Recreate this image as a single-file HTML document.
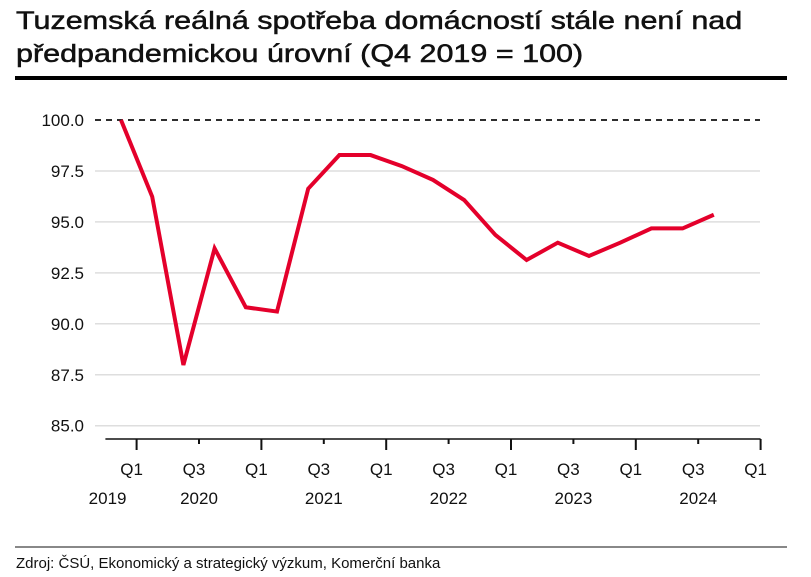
<!DOCTYPE html>
<html><head><meta charset="utf-8"><style>
body{margin:0;background:#fff;font-family:"Liberation Sans",Arial,sans-serif;}
#wrap{position:relative;width:811px;height:577px;overflow:hidden;}
#title{position:absolute;left:16px;top:5px;font-size:25px;font-weight:normal;-webkit-text-stroke:0.5px #111;line-height:33px;color:#111;white-space:nowrap;transform:scaleX(1.22);transform-origin:0 0;}
#rule{position:absolute;left:15px;top:76px;width:772px;height:4px;background:#000;}
#frule{position:absolute;left:15px;top:546px;width:772px;height:2px;background:#888;}
#foot{position:absolute;left:16px;top:555px;font-size:15px;color:#111;}
svg{position:absolute;left:0;top:0;}
</style></head><body>
<div id="wrap">
<div id="title">Tuzemská reálná spotřeba domácností stále není nad<br>předpandemickou úrovní (Q4 2019 = 100)</div>
<div id="rule"></div>
<svg id="chart" width="811" height="577"></svg>
<div id="frule"></div>
<div id="foot">Zdroj: ČSÚ, Ekonomický a strategický výzkum, Komerční banka</div>
</div>
<script>
const values = [100, 96.24, 87.98, 93.7, 90.81, 90.6, 96.63, 98.28, 98.28, 97.74, 97.06, 96.07, 94.36, 93.13, 93.98, 93.33, 93.98, 94.68, 94.68, 95.35];
const yTicks = [85, 87.5, 90, 92.5, 95, 97.5, 100];
const quarterLabels = ["Q1","Q3","Q1","Q3","Q1","Q3","Q1","Q3","Q1","Q3","Q1"];
const yearLabels = ["2019","2020","","2021","","2022","","2023","","2024",""];
const refValue = 100;

const NS="http://www.w3.org/2000/svg";
const svg=document.getElementById('chart');
const x0=121, step=31.2;
const xs=i=>x0+step*i;
const ys=v=>120+(100-v)*20.38;
function mk(t,a){const e=document.createElementNS(NS,t);for(const k in a)e.setAttribute(k,a[k]);svg.appendChild(e);return e;}

yTicks.forEach(v=>{
  if(v!==refValue){
    const g=mk('line',{x1:95,x2:760,y1:ys(v),y2:ys(v),stroke:'#dedede','stroke-width':1.5});
    
    
  }
  const t=mk('text',{x:84,y:ys(v)+6,'text-anchor':'end','font-size':17,fill:'#111'});
  t.textContent=v.toFixed(1);
  
  
});
const ref=mk('line',{x1:95,x2:760,y1:ys(refValue),y2:ys(refValue),stroke:'#111','stroke-width':1.8,'stroke-dasharray':'6,5'});



const ax=mk('line',{x1:xs(-0.5),x2:xs(20.5),y1:439,y2:439,stroke:'#111','stroke-width':1.5});


quarterLabels.forEach((q,k)=>{
  const x=xs(0.5+2*k);
  const major=k%2===0;
  const tk=mk('line',{x1:x,x2:x,y1:439,y2:major?450:444,stroke:'#111','stroke-width':2});
  
  
  const t=mk('text',{x:x-5,y:475,'text-anchor':'middle','font-size':17,fill:'#111'});
  t.textContent=q;
  
  
  if(yearLabels[k]){
    const y=mk('text',{x:k===0?x-29:x,y:504,'text-anchor':'middle','font-size':17,fill:'#111'});
    y.textContent=yearLabels[k];
    
    
  }
});
const pts=values.map((v,i)=>xs(i)+','+ys(v)).join(' ');
const line=mk('polyline',{points:pts,fill:'none',stroke:'#e4002b','stroke-width':4,'stroke-linejoin':'miter'});


</script>
</body></html>
